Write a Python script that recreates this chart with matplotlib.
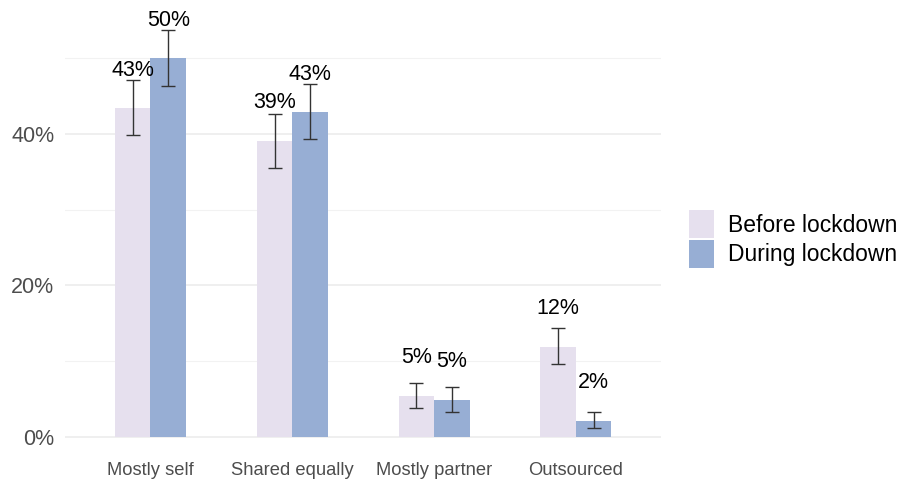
"""
Division of household chores before and during lockdown.
"""

import numpy as np
import matplotlib
matplotlib.use("Agg")
import matplotlib.pyplot as plt
from matplotlib.patches import Patch

categories = ["Mostly self", "Shared equally", "Mostly partner", "Outsourced"]
series_names = ["Before lockdown", "During lockdown"]

before = [43.4, 39.1, 5.4, 11.9]
before_lo = [39.8, 35.5, 3.8, 9.6]
before_hi = [47.1, 42.6, 7.1, 14.3]

during = [50.0, 42.9, 4.9, 2.1]
during_lo = [46.3, 39.3, 3.3, 1.1]
during_hi = [53.7, 46.6, 6.5, 3.3]

before_labels = ["43%", "39%", "5%", "12%"]
during_labels = ["50%", "43%", "5%", "2%"]

colors = ["#E6E0EE", "#97AED4"]

plt.rcParams["font.family"] = ["Liberation Sans", "DejaVu Sans"]

fig = plt.figure(figsize=(8.98, 4.83), dpi=100)
ax = fig.add_axes([65.4 / 898, 25.5 / 483, (661 - 65.4) / 898, 457.5 / 483])

x = np.arange(1, len(categories) + 1)
bar_w = 0.25

series = [
    (before, before_lo, before_hi, before_labels, -bar_w / 2),
    (during, during_lo, during_hi, during_labels, bar_w / 2),
]
for (vals, lo, hi, labels, off), col in zip(series, colors):
    xs = x + off
    ax.bar(xs, vals, width=bar_w, color=col, zorder=2)
    vals = np.array(vals)
    yerr = [vals - np.array(lo), np.array(hi) - vals]
    ax.errorbar(xs, vals, yerr=yerr, fmt="none", ecolor="#333333",
                elinewidth=1, capsize=5, capthick=1, zorder=3)
    for xi, v, lab in zip(xs, vals, labels):
        ax.text(xi, v + 5, lab, ha="center", va="center", fontsize=15.5,
                color="black", zorder=4)

ax.set_xlim(0.4, 4.6)
ax.set_ylim(-2.75, 57.7)
ax.set_yticks([0, 20, 40])
ax.set_yticklabels(["0%", "20%", "40%"])
ax.set_yticks([10, 30, 50], minor=True)
ax.set_xticks(x)
ax.set_xticklabels(categories)

ax.grid(axis="y", which="major", color="#EBEBEB", linewidth=1.1, zorder=0)
ax.grid(axis="y", which="minor", color="#F2F2F2", linewidth=0.8, zorder=0)
ax.set_axisbelow(True)
for s in ax.spines.values():
    s.set_visible(False)
ax.tick_params(axis="both", which="both", length=0)
ax.tick_params(axis="y", labelsize=15.5, labelcolor="#4D4D4D", pad=8)
ax.tick_params(axis="x", labelsize=13.2, labelcolor="#4D4D4D", pad=3)

handles = [Patch(facecolor=c, edgecolor="none") for c in colors]
fig.legend(handles, series_names, loc="center left",
           bbox_to_anchor=(680 / 898, 1 - 239 / 483), frameon=False,
           fontsize=16.5, handlelength=1.1, handleheight=1.5,
           handletextpad=0.6, labelspacing=0.05, borderaxespad=0)

fig.savefig("out.png", dpi=100)
